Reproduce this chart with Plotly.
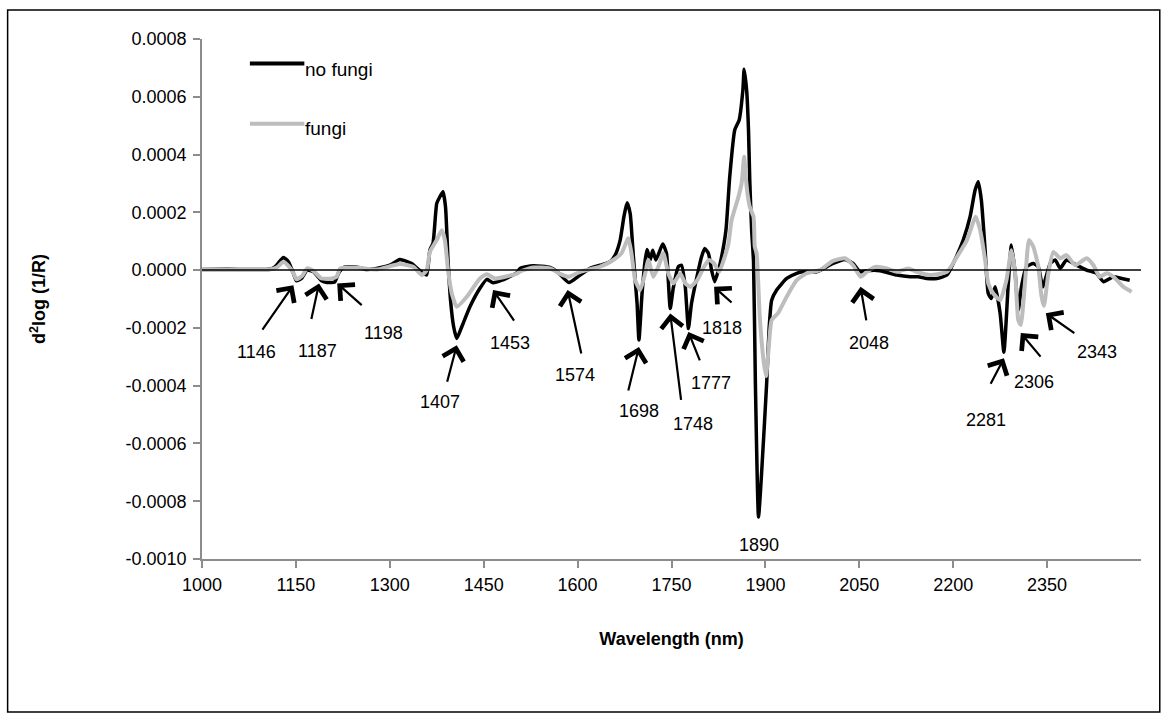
import plotly.graph_objects as go

# Second-derivative NIR spectra, d2 log(1/R), wavelength in nm
wl_no_fungi = [1000, 1040, 1080, 1108, 1117, 1124, 1130, 1138, 1146, 1151, 1159, 1168, 1178, 1191,
               1200, 1212, 1218, 1226, 1247, 1263, 1279, 1300, 1316, 1335, 1346, 1353, 1359, 1364,
               1369, 1375, 1380, 1385, 1389, 1393, 1397, 1402, 1407, 1415, 1428, 1444, 1455, 1465,
               1479, 1503, 1508, 1529, 1556, 1569, 1586, 1604, 1620, 1636, 1652, 1660, 1668, 1674,
               1679, 1684, 1688, 1692, 1695, 1698, 1703, 1708, 1711, 1716, 1720, 1725, 1736, 1742,
               1745, 1748, 1753, 1761, 1766, 1772, 1777, 1782, 1793, 1798, 1803, 1809, 1814, 1819,
               1825, 1830, 1837, 1843, 1851, 1858, 1864, 1866, 1870, 1873, 1875, 1878, 1881, 1884,
               1889, 1894, 1902, 1906, 1910, 1918, 1934, 1950, 1960, 1982, 2008, 2027, 2040, 2051,
               2062, 2083, 2110, 2131, 2144, 2158, 2174, 2190, 2200, 2216, 2227, 2235, 2240, 2245,
               2251, 2256, 2261, 2267, 2275, 2281, 2288, 2293, 2299, 2304, 2309, 2317, 2328, 2336,
               2343, 2355, 2363, 2371, 2381, 2397, 2413, 2429, 2440, 2456, 2469, 2482]
d2_no_fungi = [0.000002, 0.000003, 0.000002, 0.000003, 0.000012, 0.000030, 0.000044, 0.000029,
               -0.000011, -0.000037, -0.000029, 0.000000, -0.000006, -0.000037, -0.000043, -0.000041,
               -0.000011, 0.000009, 0.000011, 0.000002, 0.000006, 0.000017, 0.000037, 0.000023,
               0.000002, -0.000010, -0.000017, 0.000069, 0.000093, 0.000231, 0.000254, 0.000271,
               0.000219, 0.000035, -0.000104, -0.000196, -0.000237, -0.000196, -0.000127, -0.000063,
               -0.000032, -0.000044, -0.000035, -0.000009, 0.000006, 0.000015, 0.000009, -0.000009,
               -0.000043, -0.000017, 0.000006, 0.000017, 0.000029, 0.000052, 0.000104, 0.000185,
               0.000233, 0.000196, 0.000081, -0.000035, -0.000115, -0.000242, -0.000080, 0.000035,
               0.000071, 0.000035, 0.000069, 0.000035, 0.000090, 0.000058, -0.000040, -0.000133,
               -0.000060, 0.000012, 0.000017, -0.000058, -0.000202, -0.000115, 0.000000, 0.000046,
               0.000075, 0.000058, 0.000000, -0.000040, 0.000000, 0.000046, 0.000139, 0.000323,
               0.000485, 0.000519, 0.000623, 0.000695, 0.000623, 0.000485, 0.000312, 0.000139,
               0.000030, -0.000390, -0.000855, -0.000700, -0.000392, -0.000200, -0.000104, -0.000069,
               -0.000029, -0.000011, -0.000006, -0.000006, 0.000023, 0.000037, 0.000023, -0.000006,
               -0.000002, -0.000002, -0.000017, -0.000023, -0.000023, -0.000029, -0.000029, -0.000017,
               0.000023, 0.000104, 0.000185, 0.000277, 0.000306, 0.000242, 0.000069, -0.000081,
               -0.000098, -0.000058, -0.000150, -0.000284, -0.000046, 0.000087, -0.000011, -0.000139,
               -0.000058, 0.000011, 0.000023, 0.000011, -0.000058, 0.000023, 0.000035, 0.000006,
               0.000035, 0.000017, 0.000000, -0.000011, -0.000040, -0.000023, -0.000029, -0.000035]

wl_fungi = [1000, 1108, 1120, 1130, 1138, 1146, 1151, 1160, 1168, 1178, 1191, 1207, 1215, 1221,
            1247, 1279, 1316, 1338, 1351, 1359, 1364, 1375, 1383, 1388, 1393, 1399, 1407, 1423,
            1444, 1455, 1468, 1503, 1510, 1529, 1556, 1571, 1586, 1604, 1636, 1657, 1670, 1681,
            1686, 1692, 1700, 1708, 1713, 1721, 1729, 1737, 1745, 1753, 1764, 1772, 1780, 1791,
            1802, 1810, 1818, 1826, 1835, 1841, 1846, 1857, 1862, 1866, 1870, 1875, 1881, 1883,
            1886, 1891, 1897, 1901, 1905, 1910, 1920, 1934, 1950, 1966, 1987, 2008, 2027, 2040,
            2052, 2062, 2075, 2094, 2110, 2128, 2142, 2163, 2190, 2206, 2222, 2236, 2243, 2251,
            2256, 2264, 2275, 2285, 2293, 2299, 2304, 2308, 2315, 2321, 2328, 2336, 2341, 2345,
            2352, 2360, 2371, 2381, 2395, 2413, 2424, 2434, 2445, 2456, 2472, 2485]
d2_fungi = [0.000002, 0.000002, 0.000010, 0.000029, 0.000015, -0.000010, -0.000032, -0.000020,
            0.000006, -0.000003, -0.000029, -0.000029, -0.000023, 0.000006, 0.000009, 0.000002,
            0.000021, 0.000011, -0.000017, 0.000000, 0.000063, 0.000104, 0.000138, 0.000104,
            0.000000, -0.000081, -0.000127, -0.000092, -0.000029, -0.000014, -0.000029, -0.000012,
            -0.000003, 0.000009, 0.000006, -0.000012, -0.000023, -0.000006, 0.000012, 0.000035,
            0.000058, 0.000110, 0.000058, -0.000035, -0.000069, -0.000011, 0.000035, -0.000023,
            0.000012, 0.000058, -0.000012, -0.000046, -0.000012, -0.000046, -0.000058, -0.000035,
            0.000012, 0.000035, 0.000023, -0.000006, 0.000046, 0.000092, 0.000173, 0.000254,
            0.000300, 0.000392, 0.000289, 0.000219, 0.000185, 0.000081, 0.000058, -0.000162,
            -0.000312, -0.000367, -0.000277, -0.000173, -0.000150, -0.000092, -0.000035, -0.000011,
            0.000000, 0.000032, 0.000041, 0.000017, -0.000023, -0.000006, 0.000011, 0.000006,
            -0.000006, 0.000006, -0.000006, -0.000017, -0.000006, 0.000046, 0.000104, 0.000185,
            0.000139, 0.000035, -0.000046, -0.000081, -0.000104, -0.000035, 0.000069, -0.000011,
            -0.000173, -0.000190, -0.000035, 0.000104, 0.000081, 0.000011, -0.000090, -0.000124,
            -0.000011, 0.000063, 0.000041, 0.000052, 0.000017, 0.000041, 0.000017, -0.000023,
            -0.000011, -0.000023, -0.000058, -0.000075]

# Labelled absorption features: label text, arrow tip (nm, value)
band_labels = ["1146", "1187", "1198", "1407", "1453", "1574", "1698",
               "1748", "1777", "1818", "2048", "2281", "2306", "2343"]
tip_wl = [1146, 1187, 1216, 1407, 1465, 1584, 1698, 1748, 1777, 1818, 2052, 2281, 2308, 2348]
tip_val = [-0.000052, -0.000046, -0.000046, -0.000260, -0.000069, -0.000069, -0.000266,
           -0.000150, -0.000214, -0.000058, -0.000058, -0.000305, -0.000218, -0.000149]
main_band = "1890"
main_band_wl = 1889
main_band_val = -0.000855

x_ticks = [1000, 1150, 1300, 1450, 1600, 1750, 1900, 2050, 2200, 2350]
x_tick_text = ["1000", "1150", "1300", "1450", "1600", "1750", "1900", "2050", "2200", "2350"]
y_ticks = [-0.0010, -0.0008, -0.0006, -0.0004, -0.0002, 0.0, 0.0002, 0.0004, 0.0006, 0.0008]
y_tick_text = ["-0.0010", "-0.0008", "-0.0006", "-0.0004", "-0.0002",
               "0.0000", "0.0002", "0.0004", "0.0006", "0.0008"]

# Arrow tail offsets and label offsets (pixels, relative to the arrow tip)
arrow_tail = [(-32, 46), (-8, 37), (26, 23), (-10, 38), (22, 32), (14, 65), (-11, 45),
              (11, 88), (12, 30), (19, 17), (6, 35), (-14, 27), (21, 25), (30, 21)]
label_shift = [(-37, -67), (-2, -68), (46, -50), (-17, -57), (17, -53), (7, -85), (0, -64),
               (23, -111), (23, -51), (8, -41), (8, -56), (-18, -62), (13, -49), (51, -39)]

FONT = "Liberation Sans, Arial, sans-serif"
BLACK = "#000000"
GREY = "#BDBDBD"
AXIS = "#8C8C8C"

fig = go.Figure()
fig.add_trace(go.Scatter(x=wl_no_fungi, y=d2_no_fungi, mode="lines", name="no fungi",
                         line=dict(color=BLACK, width=3.5, shape="spline", smoothing=0.5),
                         showlegend=False))
fig.add_trace(go.Scatter(x=wl_fungi, y=d2_fungi, mode="lines", name="fungi",
                         line=dict(color=GREY, width=4, shape="spline", smoothing=0.5),
                         showlegend=False))

annotations = []
for lab, xw, yv, (ax, ay), (sx, sy) in zip(band_labels, tip_wl, tip_val, arrow_tail, label_shift):
    annotations.append(dict(x=xw, y=yv, xref="x", yref="y", text="", showarrow=True,
                            ax=ax, ay=ay, arrowhead=4, arrowsize=1.9, arrowwidth=2.2,
                            arrowcolor=BLACK))
    annotations.append(dict(x=xw, y=yv, xref="x", yref="y", text=lab, showarrow=False,
                            xshift=sx, yshift=sy, font=dict(family=FONT, size=18, color=BLACK)))
annotations.append(dict(x=main_band_wl, y=main_band_val, xref="x", yref="y", text=main_band,
                        showarrow=False, yshift=-28, font=dict(family=FONT, size=18, color=BLACK)))

# In-plot legend
legend_items = [("no fungi", BLACK, 0.953, 0.941), ("fungi", GREY, 0.837, 0.828)]
shapes = []
for name, col, ly, ty in legend_items:
    shapes.append(dict(type="line", xref="paper", yref="paper", x0=0.051, x1=0.109,
                       y0=ly, y1=ly, line=dict(color=col, width=4)))
    annotations.append(dict(x=0.108, y=ty, xref="paper", yref="paper", text=name,
                            showarrow=False, xanchor="left", yanchor="middle",
                            font=dict(family=FONT, size=19, color=BLACK)))

# zero reference line drawn over the spectra
shapes.append(dict(type="line", xref="paper", yref="y", x0=0, x1=1, y0=0, y1=0,
                   line=dict(color=BLACK, width=1.5), layer="above"))
# chart frame
shapes.append(dict(type="rect", xref="paper", yref="paper", x0=-0.207, x1=1.02,
                   y0=-0.294, y1=1.056, line=dict(color=BLACK, width=1.5), layer="below"))

fig.update_layout(
    width=1168, height=722,
    margin=dict(l=202, r=27, t=39, b=163),
    paper_bgcolor="white", plot_bgcolor="white",
    font=dict(family=FONT, size=18, color=BLACK),
    shapes=shapes, annotations=annotations,
    xaxis=dict(range=[1000, 2500], tickmode="array", tickvals=x_ticks, ticktext=x_tick_text,
               showline=True, linecolor=AXIS, linewidth=1.5, ticks="outside", ticklen=7,
               tickcolor=AXIS, tickwidth=1.5, showgrid=False, zeroline=False,
               ticklabelstandoff=2,
               title=dict(text="<b>Wavelength (nm)</b>", standoff=38,
                          font=dict(family=FONT, size=18, color=BLACK))),
    yaxis=dict(range=[-0.0010, 0.0008], tickmode="array", tickvals=y_ticks, ticktext=y_tick_text,
               showline=True, linecolor=AXIS, linewidth=1.5, ticks="outside", ticklen=7,
               tickcolor=AXIS, tickwidth=1.5, showgrid=False, zeroline=False,
               ticklabelstandoff=3,
               title=dict(text="<b>d<sup>2</sup>log (1/R)</b>", standoff=75,
                          font=dict(family=FONT, size=18, color=BLACK))),
)

fig.write_html("out.html")
